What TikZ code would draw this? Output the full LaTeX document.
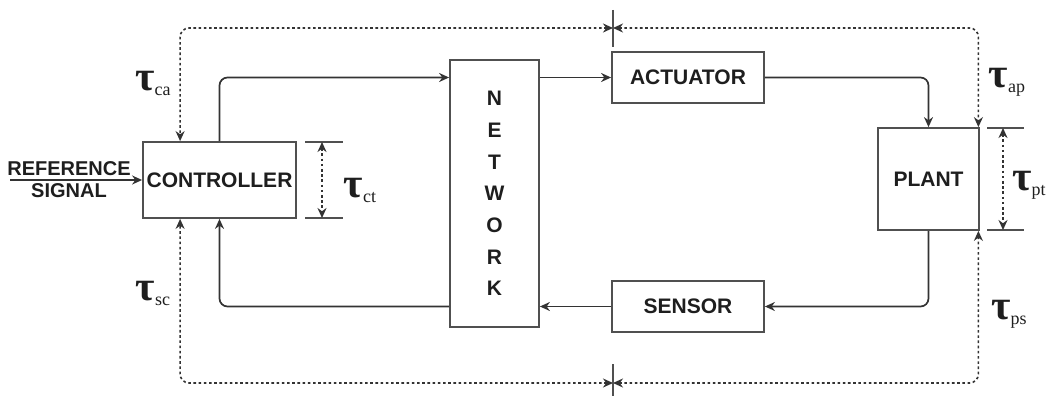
\documentclass[tikz,border=0pt]{standalone}
\usepackage{fontspec}
\setmainfont{Liberation Sans}
\newfontfamily\taufont{Liberation Serif}
\usetikzlibrary{arrows.meta,calc}
\definecolor{linec}{HTML}{333333}
\definecolor{boxc}{HTML}{505050}
\definecolor{txtc}{HTML}{1E1E1E}
\newcommand{\tlab}[1]{{\taufont\fontsize{42}{42}\selectfont\bfseries τ\mdseries\fontsize{18}{18}\selectfont\raisebox{-5pt}{#1}}}
\begin{document}
\begin{tikzpicture}[x=1pt,y=-1pt,
  blk/.style={draw=boxc,line width=1.8pt,inner sep=0pt,font=\bfseries\fontsize{21}{21}\selectfont,text=txtc},
  conn/.style={draw=linec,line width=1.7pt,rounded corners=8pt,-{Stealth[length=10pt,width=9pt]}},
  dotc/.style={draw=linec,line width=1.6pt,dash pattern=on 2.6pt off 2.6pt,rounded corners=9pt,{Stealth[length=10pt,width=9pt]}-{Stealth[length=10pt,width=9pt]}},
  tick/.style={draw=boxc,line width=1.6pt},
  tlabel/.style={inner sep=0pt,text=txtc}]
\useasboundingbox (0,0) rectangle (1049,396);
% blocks
\node[blk,minimum width=153pt,minimum height=76pt] (ctrl) at (219.5,180) {CONTROLLER};
\node[blk,minimum width=89pt,minimum height=267pt,align=center,font=\bfseries\fontsize{21}{31.7}\selectfont] (net) at (494.5,193.5) {N\\E\\T\\W\\O\\R\\K};
\node[blk,minimum width=152pt,minimum height=51pt] (act) at (688,77.5) {ACTUATOR};
\node[blk,minimum width=152pt,minimum height=51pt] (sens) at (688,306.5) {SENSOR};
\node[blk,minimum width=101pt,minimum height=102pt] (plant) at (928.5,179) {PLANT};
% reference signal
\node[inner sep=0pt,align=center,text=txtc,font=\bfseries\fontsize{20}{22}\selectfont] (ref) at (69,180) {REFERENCE\\SIGNAL};
\coordinate (rs) at (10,180);
\draw[conn] (rs) -- (ctrl.west);
% solid connectors
\draw[conn] (ctrl.north) |- (net.west |- act.west);
\draw[conn] (net.east |- act.west) -- (act.west);
\draw[conn] (act.east) -| (plant.north);
\draw[conn] (plant.south) |- (sens.east);
\draw[conn] (sens.west) -- (net.east |- sens.west);
\draw[conn] (net.west |- sens.west) -| (ctrl.south);
% dotted delay loop
\coordinate (mt) at (613,28);
\coordinate (mb) at (613,383);
\coordinate (ct) at ([xshift=38pt]ctrl.north west);
\coordinate (cb) at ([xshift=38pt]ctrl.south west);
\coordinate (pt) at ([xshift=-1.5pt]plant.north east);
\coordinate (pb) at ([xshift=-1.5pt]plant.south east);
\draw[dotc] (mt) -| (ct);
\draw[dotc] (mt) -| (pt);
\draw[dotc] (mb) -| (cb);
\draw[dotc] (mb) -| (pb);
\coordinate (t1) at (613,10);
\coordinate (t2) at (613,47);
\coordinate (t3) at (613,364);
\coordinate (t4) at (613,396);
\draw[tick] (t1) -- (t2);
\draw[tick] (t3) -- (t4);
% controller time
\coordinate (c1) at (305,142); \coordinate (c2) at (343,142);
\coordinate (c3) at (305,218); \coordinate (c4) at (343,218);
\draw[tick] (c1) -- (c2);
\draw[tick] (c3) -- (c4);
\draw[dotc] (322,142) -- (322,218);
% plant time
\coordinate (p1) at (987,128); \coordinate (p2) at (1024,128);
\coordinate (p3) at (987,230); \coordinate (p4) at (1024,230);
\draw[tick] (p1) -- (p2);
\draw[tick] (p3) -- (p4);
\draw[dotc] (1003,128) -- (1003,230);
% labels
\node[tlabel] (lca) at (153,83) {\tlab{ca}};
\node[tlabel] (lsc) at (153,293) {\tlab{sc}};
\node[tlabel] (lct) at (360,190) {\tlab{ct}};
\node[tlabel] (lap) at (1007,82) {\tlab{ap}};
\node[tlabel] (lpt) at (1029,185) {\tlab{pt}};
\node[tlabel] (lps) at (1009,314) {\tlab{ps}};
\end{tikzpicture}
\end{document}
